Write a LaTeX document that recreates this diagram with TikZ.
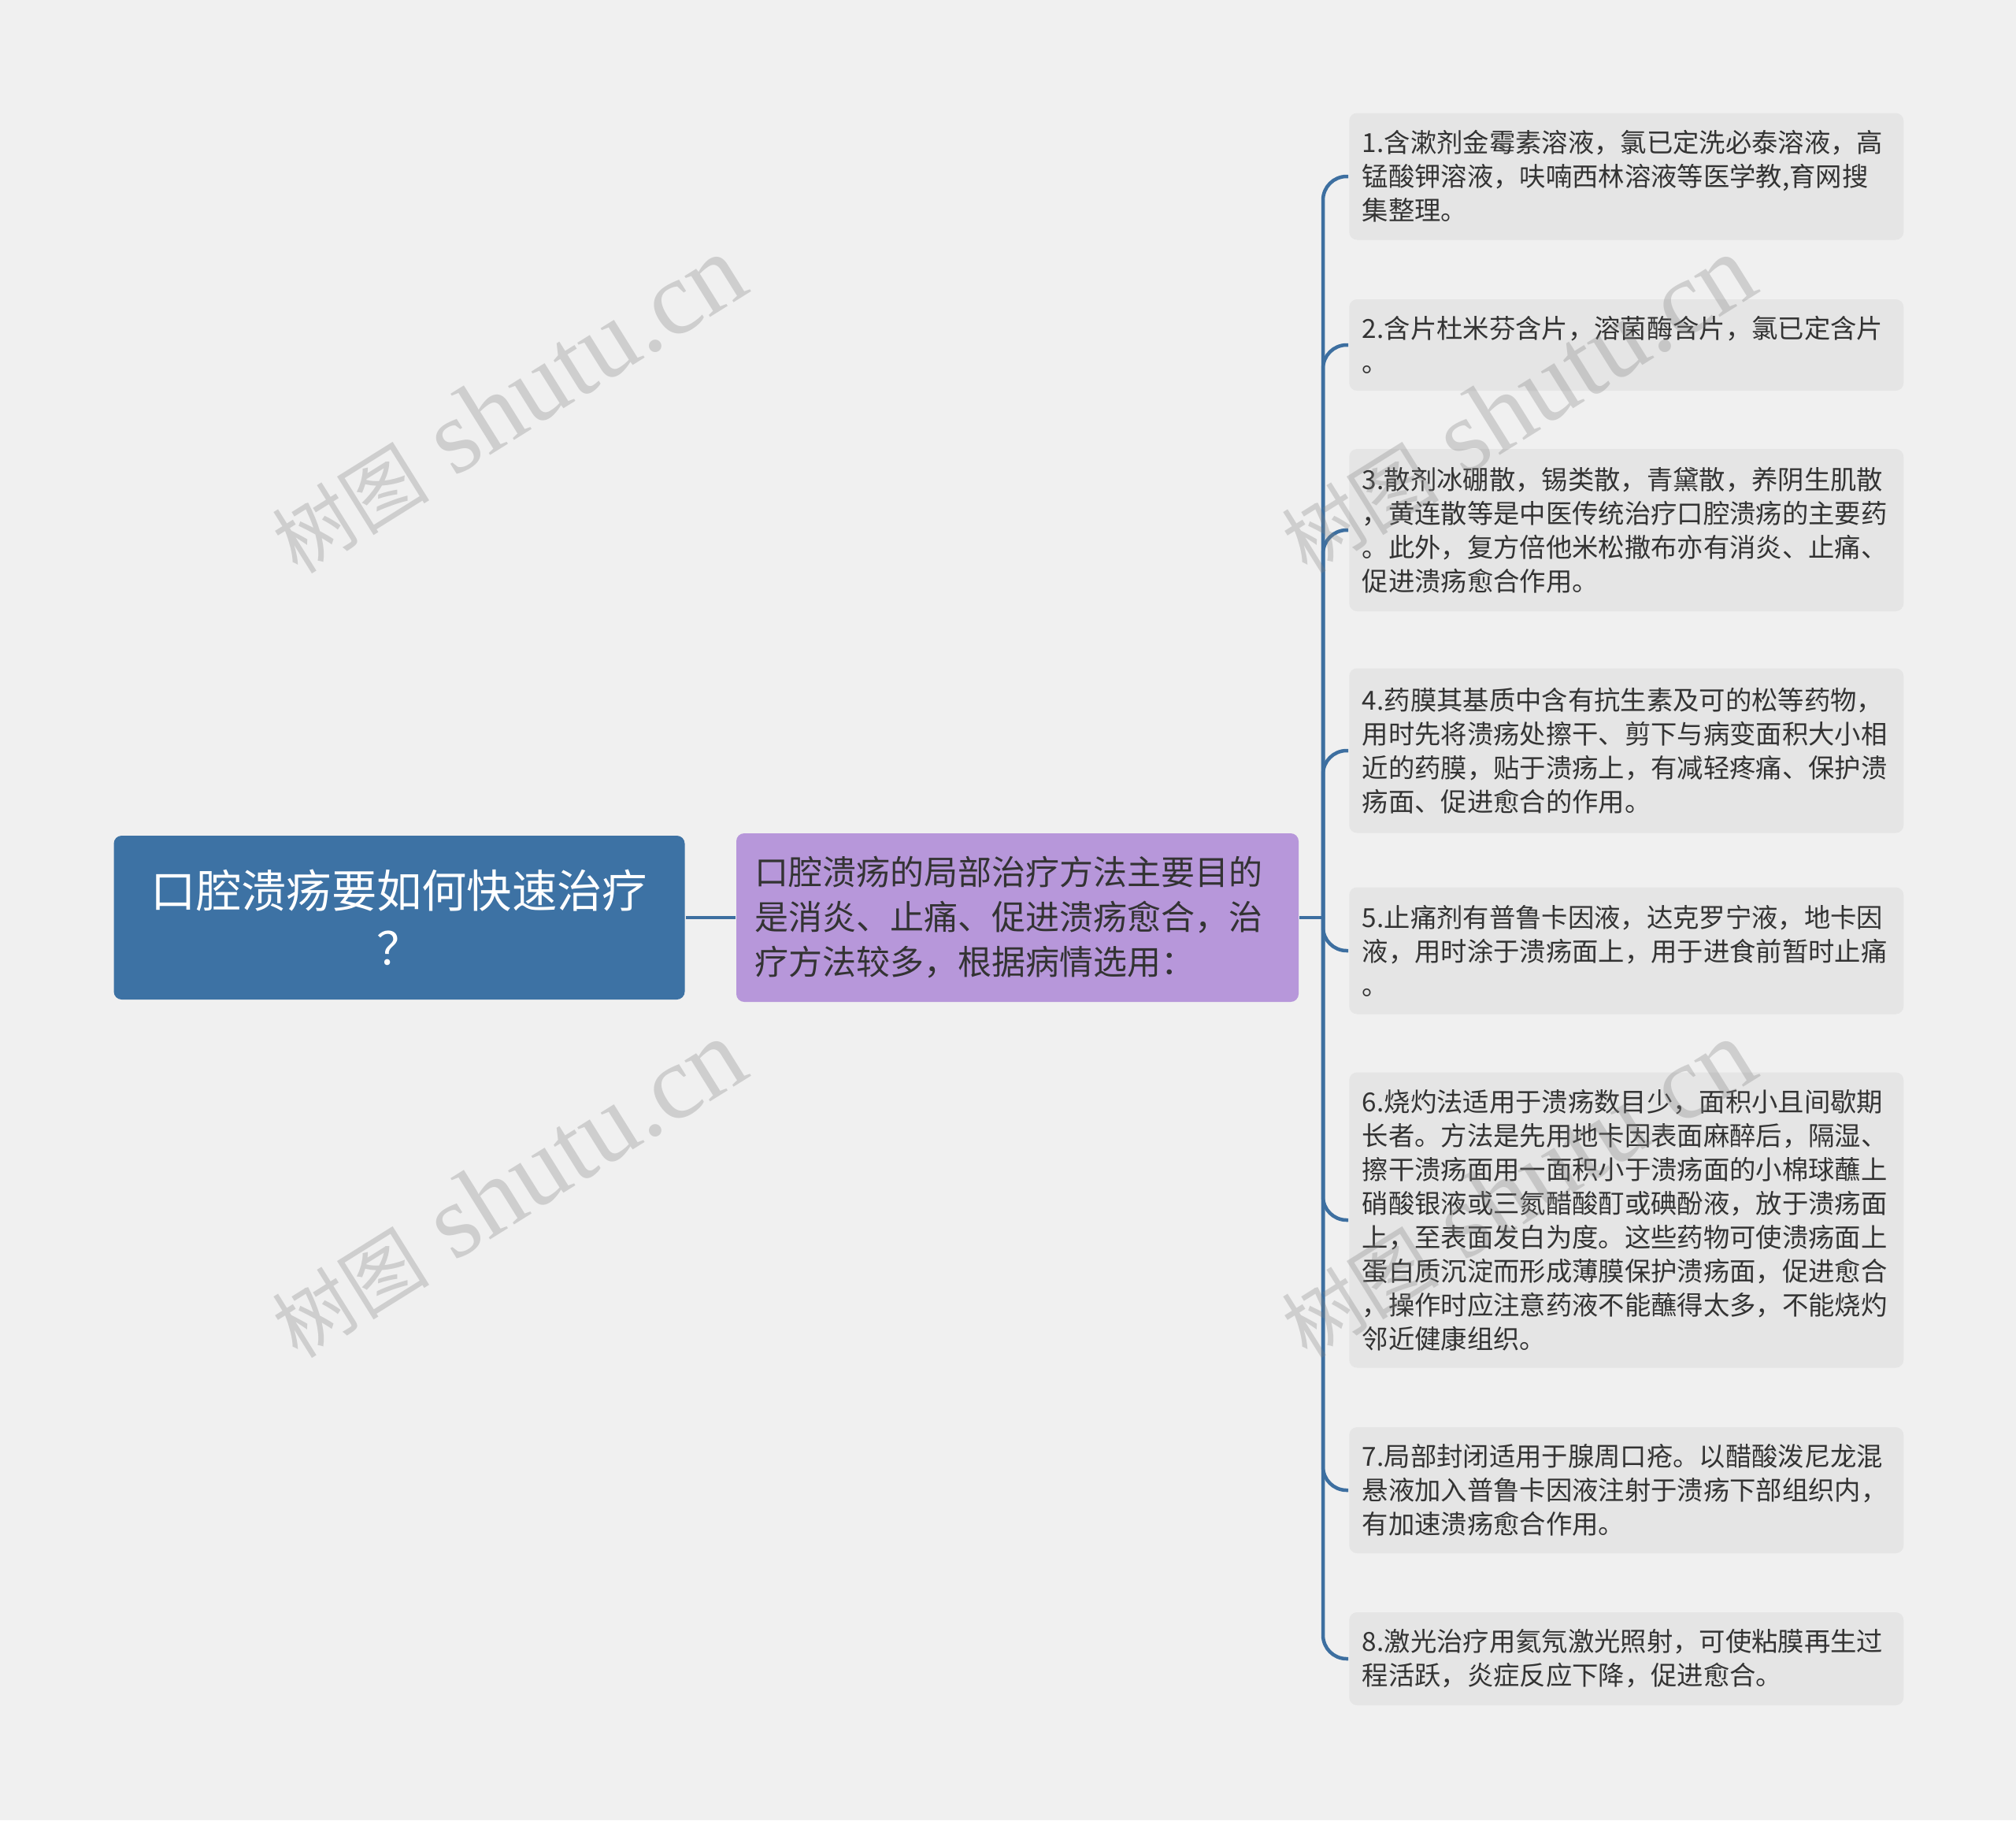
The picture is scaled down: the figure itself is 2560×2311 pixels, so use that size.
\documentclass[tikz,border=0pt]{standalone}
\usepackage{fontspec}
\setmainfont{Noto Sans CJK SC}
\newfontfamily\wmfont{Liberation Serif}
\usetikzlibrary{positioning}

\definecolor{bgcol}{RGB}{240,240,240}
\definecolor{rootcol}{RGB}{61,114,164}
\definecolor{midcol}{RGB}{183,151,218}
\definecolor{leafcol}{RGB}{229,229,229}
\definecolor{linecol}{RGB}{61,111,160}
\definecolor{txtcol}{RGB}{51,51,51}

\tikzset{every picture/.style={line width=0.75pt}}
\tikzset{
  rootbox/.style={fill=rootcol, rounded corners=3pt, text=white, font=\fontsize{17.2}{22}\selectfont, align=center, minimum width=217.5pt, minimum height=62.4pt, inner sep=0pt},
  midbox/.style={fill=midcol, rounded corners=3pt, text=txtcol, font=\fontsize{12.9}{17.1}\selectfont, align=left, text width=200.4pt, inner xsep=6.9pt, minimum height=64.2pt},
  leafbox/.style={fill=leafcol, rounded corners=3pt, text=txtcol, font=\fontsize{10}{12.9}\selectfont, align=left, text width=201.2pt, inner xsep=5pt, anchor=west},
  branch/.style={draw=linecol, line width=1.35pt, rounded corners=9pt},
  wmark/.style={text=gray, text opacity=0.3, rotate=32, inner sep=0pt}
}
\newcommand{\wmtext}{{\fontsize{30}{30}\selectfont 树图}\hspace{10pt}{\wmfont\fontsize{40}{40}\selectfont shutu.cn}}

\begin{document}
\begin{tikzpicture}[x=0.3pt,y=0.3pt,yscale=-1,xscale=1]
% background, sets the page size
\path[fill=bgcol] (0,0) rectangle (2560,2311);

% Root node
\node[rootbox] (root) at (507,1165) {口腔溃疡要如何快速治疗\\？};
% Middle node
\node[midbox] (mid) at (1292,1165) {口腔溃疡的局部治疗方法主要目的\\是消炎、止痛、促进溃疡愈合，治\\疗方法较多，根据病情选用：};

% Leaf nodes
\node[leafbox, minimum height=48.3pt] (leaf1) at (1712,224) {1.含漱剂金霉素溶液，氯已定洗必泰溶液，高\\锰酸钾溶液，呋喃西林溶液等医学教,育网搜\\集整理。};
\node[leafbox, minimum height=34.8pt] (leaf2) at (1712,438) {2.含片杜米芬含片，溶菌酶含片，氯已定含片\\。};
\node[leafbox, minimum height=61.8pt] (leaf3) at (1712,673) {3.散剂冰硼散，锡类散，青黛散，养阴生肌散\\，黄连散等是中医传统治疗口腔溃疡的主要药\\。此外，复方倍他米松撒布亦有消炎、止痛、\\促进溃疡愈合作用。};
\node[leafbox, minimum height=62.7pt] (leaf4) at (1712,953) {4.药膜其基质中含有抗生素及可的松等药物，\\用时先将溃疡处擦干、剪下与病变面积大小相\\近的药膜，贴于溃疡上，有减轻疼痛、保护溃\\疡面、促进愈合的作用。};
\node[leafbox, minimum height=48.3pt] (leaf5) at (1712,1207) {5.止痛剂有普鲁卡因液，达克罗宁液，地卡因\\液，用时涂于溃疡面上，用于进食前暂时止痛\\。};
\node[leafbox, minimum height=112.5pt] (leaf6) at (1712,1549) {6.烧灼法适用于溃疡数目少，面积小且间歇期\\长者。方法是先用地卡因表面麻醉后，隔湿、\\擦干溃疡面用一面积小于溃疡面的小棉球蘸上\\硝酸银液或三氮醋酸酊或碘酚液，放于溃疡面\\上，至表面发白为度。这些药物可使溃疡面上\\蛋白质沉淀而形成薄膜保护溃疡面，促进愈合\\，操作时应注意药液不能蘸得太多，不能烧灼\\邻近健康组织。};
\node[leafbox, minimum height=48pt] (leaf7) at (1712,1892) {7.局部封闭适用于腺周口疮。以醋酸泼尼龙混\\悬液加入普鲁卡因液注射于溃疡下部组织内，\\有加速溃疡愈合作用。};
\node[leafbox, minimum height=35.4pt] (leaf8) at (1712,2106) {8.激光治疗用氦氖激光照射，可使粘膜再生过\\程活跃，炎症反应下降，促进愈合。};

% Connectors
\coordinate (hub) at (1680,1165);
\draw[branch] (root.east) -- (mid.west);
\draw[branch] (mid.east) -- (hub);
\foreach \i in {1,...,8}
  \draw[branch] (hub) |- (leaf\i.west);

% Watermarks
\node[wmark] (wm1) at (645,514) {\wmtext};
\node[wmark] (wm2) at (645,1510) {\wmtext};
\node[wmark] (wm3) at (1927,514) {\wmtext};
\node[wmark] (wm4) at (1927,1510) {\wmtext};

\end{tikzpicture}
\end{document}
